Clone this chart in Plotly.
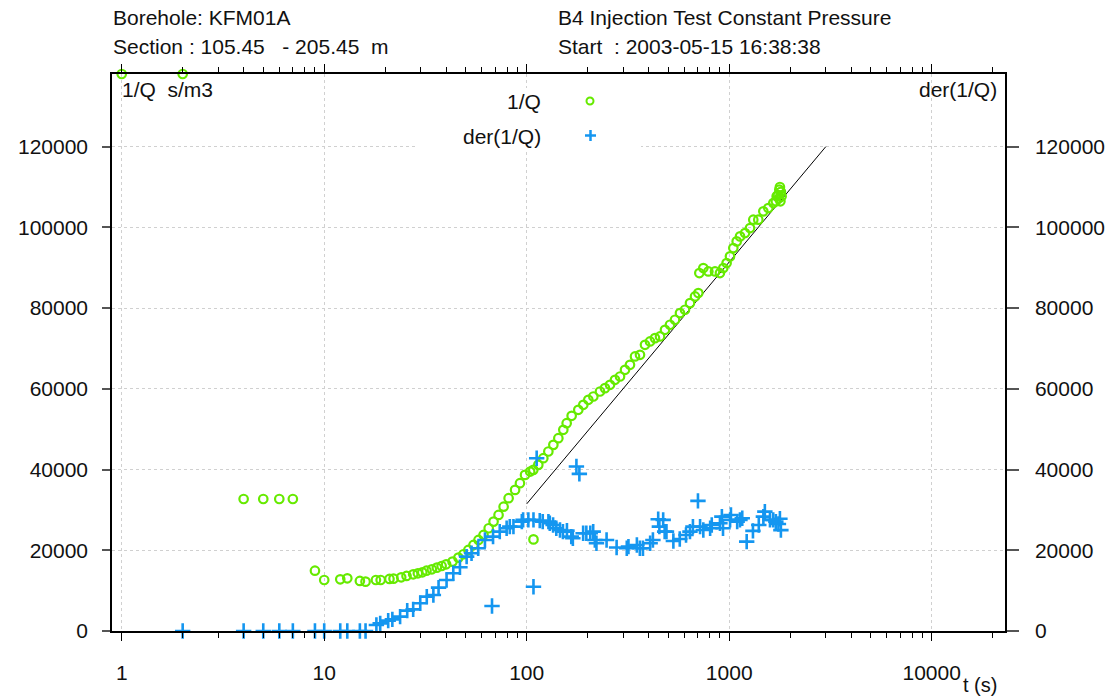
import plotly.graph_objects as go

# ---------------- data ----------------
t_inv = [1, 2, 4, 5, 6, 7, 9, 10, 12, 13, 15, 16, 18, 19, 21, 22, 24, 25.5, 27.5, 29,
         30.5, 32, 34, 36, 38, 40, 43, 46, 48.7, 51.5, 54.6, 57.8, 61.2, 64.9, 68.6,
         72.6, 76.9, 81.4, 87.6, 92.6, 98.1, 104, 107.8, 108, 114.1, 120.8, 127.9,
         135.4, 143.3, 151.6, 157.5, 166.7, 179.8, 190.3, 201.5, 213.3, 230, 243.5,
         257.8, 272.9, 288.9, 305.8, 323.6, 342.6, 362.6, 383.8, 406.3, 430, 455.2,
         481.8, 510, 539.9, 571.4, 604.9, 640.3, 677.7, 703.8, 712, 745, 789, 851,
         900, 935, 971, 1009, 1048, 1089, 1131, 1197, 1267, 1315, 1392, 1474, 1560,
         1651, 1700, 1716, 1740, 1760, 1768, 1780, 1790, 1800, 1815]
inv_q = [138000, 138000, 32700, 32700, 32700, 32700, 14950, 12640, 12800, 13060, 12400,
         12230, 12640, 12640, 12890, 12970, 13300, 13640, 14050, 14300, 14540, 14950,
         15290, 15700, 16100, 16530, 17190, 18180, 19010, 20080, 21320, 22560, 23800,
         25460, 27100, 28750, 30800, 32900, 34960, 36620, 38680, 39500, 39920, 22700,
         41160, 42810, 44470, 46120, 47770, 49840, 51490, 53310, 54800, 56040, 57280,
         58100, 59340, 60170, 60990, 62230, 63060, 64710, 65950, 68020, 68430, 70910,
         71740, 72560, 72980, 74630, 75870, 77110, 78760, 79590, 81240, 82890, 83720,
         88680, 89920, 89090, 89090, 88680, 89920, 91160, 92810, 94880, 96530, 97770,
         98590, 99830, 101900, 101900, 103970, 104790, 106030, 106500, 107690, 108000,
         107200, 109340, 110000, 106450, 108800, 107690]

t_der = [2, 4, 5, 6, 7, 9, 10, 12, 13, 15, 16, 18.1, 18.9, 20.7, 21.7, 23.7, 25.7, 27.5,
         29.8, 32.1, 34.6, 36.7, 40.2, 43.4, 46.8, 50.5, 53.4, 57.6, 62.2, 67.4, 68.2,
         73.6, 79.6, 82.5, 86, 94.6, 96, 101.9, 108, 108, 112, 116, 120, 128, 130, 135,
         140, 146, 151, 158, 166, 169, 176, 182, 190, 197, 206, 213, 217, 221, 248, 278,
         312, 318, 350, 362, 375, 407, 420, 446, 452, 472, 480, 490, 530, 570, 612, 640,
         662, 701, 718, 745, 805, 820, 900, 920, 932, 1010, 1020, 1095, 1130, 1160, 1220,
         1310, 1400, 1475, 1500, 1590, 1650, 1700, 1750, 1780, 1800]
der_q = [0, 0, 0, 0, 0, 0, 0, 0, 0, 0, 0, 1490, 1900, 2560, 2890, 3550, 5040, 5370,
         6860, 8510, 8930, 10740, 12640, 14300, 15790, 18420, 19260, 20500, 22560, 6200,
         23380, 24620, 25460, 25860, 25860, 27100, 27520, 27520, 27520, 10980, 42800,
         27350, 27100, 27100, 26700, 26280, 25460, 25040, 24620, 24870, 23380, 22980,
         40740, 38920, 24220, 24220, 24220, 24620, 22560, 21740, 22560, 20700, 20500,
         20900, 21320, 20500, 20500, 21740, 22560, 27680, 25860, 27520, 24620, 24620,
         22300, 22800, 23800, 24620, 25860, 32230, 25860, 25040, 25460, 26280, 26700,
         28340, 25460, 27520, 28750, 27100, 27520, 27930, 22140, 24800, 26280, 28340,
         29580, 27520, 27520, 27100, 26500, 27800, 25000]

line_t = [100, 3000]
line_y = [31500, 120000]

x_major = [1, 10, 100, 1000, 10000]
x_labels = ["1", "10", "100", "1000", "10000"]
y_ticks = [0, 20000, 40000, 60000, 80000, 100000, 120000]
y_labels = ["0", "20000", "40000", "60000", "80000", "100000", "120000"]

# ---------------- layout helpers ----------------
W, H = 1107, 698
L, R, T, B = 112, 1005, 74, 631


def px(x):
    return (x - L) / (R - L)


def py(y):
    return (B - y) / (B - T)


GREEN = "#66ea00"
BLUE = "#1496f0"
FONT = "Liberation Sans, Arial, sans-serif"
FS = 21
TXT = "#111111"

x_minor = [m * d for d in [1, 10, 100, 1000, 10000] for m in range(2, 10) if m * d < 23000]

fig = go.Figure()
fig.add_trace(go.Scatter(x=line_t, y=line_y, mode="lines",
                         line=dict(color="black", width=1), showlegend=False))
fig.add_trace(go.Scatter(x=t_inv, y=inv_q, mode="markers", cliponaxis=False,
                         marker=dict(symbol="circle-open", size=8.5, color=GREEN,
                                     line=dict(width=2.2, color=GREEN)),
                         showlegend=False))
fig.add_trace(go.Scatter(x=t_der, y=der_q, mode="markers", cliponaxis=False, yaxis="y2",
                         marker=dict(symbol="cross-thin", size=11, color=BLUE,
                                     line=dict(width=2.6, color=BLUE)),
                         showlegend=False))

yr = [0, 138000]
xr = [-0.048, 4.362]

fig.update_layout(
    width=W, height=H,
    margin=dict(l=L, r=W - R, t=T, b=H - B, pad=0, autoexpand=False),
    paper_bgcolor="white", plot_bgcolor="white",
    font=dict(family=FONT, size=FS, color=TXT),
    xaxis=dict(type="log", range=xr, tickmode="array", tickvals=x_major, ticktext=x_labels,
               ticks="outside", ticklen=8, tickwidth=1.2, tickcolor="black",
               showline=True, linecolor="black", linewidth=1.5, mirror="ticks",
               showgrid=True, gridcolor="#d0d0d0", griddash="dot", gridwidth=1,
               zeroline=False, ticklabelstandoff=14, automargin=False,
               minor=dict(tickmode="array", tickvals=x_minor, ticks="outside", ticklen=5,
                          tickcolor="black", tickwidth=1, showgrid=False)),
    yaxis=dict(range=yr, tickmode="array", tickvals=y_ticks, ticktext=y_labels,
               ticks="outside", ticklen=8, tickwidth=1.5, tickcolor="#555555",
               showline=True, linecolor="black", linewidth=1.5, mirror=False,
               showgrid=True, gridcolor="#d0d0d0", griddash="dot", gridwidth=1,
               zeroline=False, ticklabelstandoff=10, automargin=False),
    yaxis2=dict(range=yr, overlaying="y", side="right", tickmode="array", tickvals=y_ticks,
                ticktext=y_labels,
                ticks="outside", ticklen=12, tickwidth=1.5, tickcolor="#555555",
                showline=True, linecolor="black", linewidth=1.5,
                showgrid=False, zeroline=False, ticklabelstandoff=12, automargin=False),
)

shapes = [
    # legend background box
    dict(type="rect", xref="paper", yref="paper", x0=px(417), x1=px(641), y0=py(150), y1=py(88),
         fillcolor="white", line=dict(width=0), layer="above"),
    # legend key: ring
    dict(type="circle", xref="paper", yref="paper", x0=px(586.5), x1=px(593.5), y0=py(104.5), y1=py(97.5),
         line=dict(color=GREEN, width=2), layer="above"),
    # legend key: plus
    dict(type="line", xref="paper", yref="paper", x0=px(585), x1=px(596), y0=py(135.5), y1=py(135.5),
         line=dict(color=BLUE, width=2.5), layer="above"),
    dict(type="line", xref="paper", yref="paper", x0=px(590.5), x1=px(590.5), y0=py(130), y1=py(141),
         line=dict(color=BLUE, width=2.5), layer="above"),
]
fig.update_layout(shapes=shapes)

NB = "\u00a0"


def ann(text, x, y, anchor="left", size=FS):
    return dict(text=text, x=px(x), y=py(y), xref="paper", yref="paper", showarrow=False,
                xanchor=anchor, yanchor="middle", font=dict(family=FONT, size=size, color=TXT))


anns = [
    ann("Borehole: KFM01A", 111, 18),
    ann("Section : 105.45" + NB * 3 + "- 205.45" + NB * 2 + "m", 111, 46),
    ann("B4 Injection Test Constant Pressure", 556, 18),
    ann("Start" + NB * 2 + ": 2003-05-15 16:38:38", 556, 46),
    ann("1/Q" + NB * 2 + "s/m3", 120, 90),
    ann("der(1/Q)", 999, 90, "right"),
    ann("1/Q", 543, 101, "right"),
    ann("der(1/Q)", 543, 136, "right"),
    ann("t (s)", 961, 685, size=20),
]
fig.update_layout(annotations=anns)

fig.write_html("out.html")
